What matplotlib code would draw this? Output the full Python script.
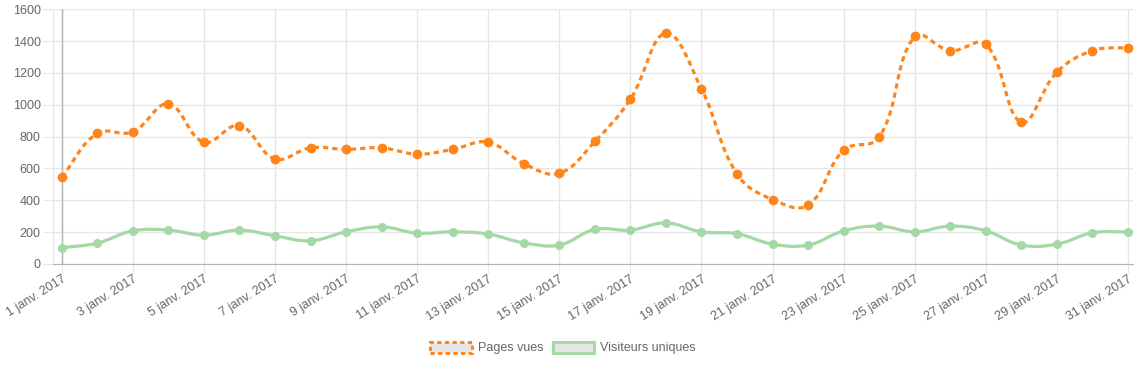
import numpy as np
import matplotlib
matplotlib.use("Agg")
import matplotlib.pyplot as plt
from matplotlib.path import Path
from matplotlib.patches import PathPatch, Patch

# données (janvier 2017)
days = list(range(1, 32))
pages_vues = [545, 820, 830, 1005, 765, 870, 660, 730, 720, 730,
              690, 720, 765, 630, 570, 770, 1035, 1450, 1100, 565,
              405, 370, 715, 795, 1430, 1340, 1380, 890, 1205, 1340, 1360]
visiteurs = [102, 131, 208, 213, 181, 213, 177, 146, 202, 233,
             194, 202, 188, 133, 119, 217, 213, 258, 202, 190,
             125, 119, 208, 238, 202, 238, 208, 119, 125, 196, 202]
y_ticks = [0, 200, 400, 600, 800, 1000, 1200, 1400, 1600]
x_ticks = days[::2]
x_labels = [f"{d} janv. 2017" for d in x_ticks]
series_names = ["Pages vues", "Visiteurs uniques"]

ORANGE = '#ff851b'
GREEN = '#a4d8a4'
GRID = '#e6e6e6'
AXIS = '#b4b4b4'
TEXT = '#666666'

plt.rcParams['font.family'] = ['Liberation Sans', 'DejaVu Sans']
plt.rcParams['lines.scale_dashes'] = False


def spline_path(ax, x, y, tension=0.4):
    """courbe lissée façon Chart.js (bezier cubique)"""
    pts = ax.transData.transform(np.column_stack([x, y]))
    n = len(pts)
    cp_prev = np.zeros_like(pts)
    cp_next = np.zeros_like(pts)
    for i in range(n):
        prev = pts[max(i - 1, 0)]
        cur = pts[i]
        nxt = pts[min(i + 1, n - 1)]
        d01 = np.hypot(*(cur - prev))
        d12 = np.hypot(*(nxt - cur))
        tot = d01 + d12
        s01 = d01 / tot if tot else 0
        s12 = d12 / tot if tot else 0
        cp_prev[i] = cur - tension * s01 * (nxt - prev)
        cp_next[i] = cur + tension * s12 * (nxt - prev)
    verts = [pts[0]]
    codes = [Path.MOVETO]
    for i in range(1, n):
        verts += [cp_next[i - 1], cp_prev[i], pts[i]]
        codes += [Path.CURVE4] * 3
    verts = ax.transData.inverted().transform(np.array(verts))
    return Path(verts, codes)


fig = plt.figure(figsize=(11.39, 3.69), dpi=100)
ax = fig.add_axes([52.7 / 1139, 105 / 369, (1133 - 52.7) / 1139, 254.7 / 369])
ax.set_xlim(1 - 9 / 35.55, 31 + 5 / 35.55)
ax.set_ylim(0, 1600)

# grille
ax.set_yticks(y_ticks)
ax.set_xticks(x_ticks)
ax.grid(True, color=GRID, linewidth=1)
ax.set_axisbelow(True)
for s in ['top', 'right']:
    ax.spines[s].set_visible(False)
ax.spines['left'].set_color(GRID)
ax.spines['bottom'].set_color(AXIS)
ax.axvline(days[0], color=AXIS, linewidth=1, zorder=1)

ax.tick_params(axis='y', length=7.2, color=GRID, labelcolor=TEXT, labelsize=9, pad=1.5)
ax.tick_params(axis='x', length=6.5, color=GRID, labelcolor=TEXT, labelsize=9, pad=0)
ax.set_xticklabels(x_labels, rotation=32, ha='right', va='top', rotation_mode='anchor')

# courbes
p1 = PathPatch(spline_path(ax, days, pages_vues), facecolor='none', edgecolor=ORANGE,
               linewidth=2.3, linestyle=(0, (3.8, 2.9)), zorder=4, capstyle='butt')
ax.add_patch(p1)
ax.plot(days, pages_vues, 'o', color=ORANGE, ms=6, zorder=5)

p2 = PathPatch(spline_path(ax, days, visiteurs), facecolor='none', edgecolor=GREEN,
               linewidth=2.3, zorder=3)
ax.add_patch(p2)
ax.plot(days, visiteurs, 'o', color=GREEN, ms=5.5, zorder=3)

# légende
handles = [
    Patch(facecolor=GRID, edgecolor=ORANGE, linewidth=2.2, linestyle=(0, (3, 2.5))),
    Patch(facecolor=GRID, edgecolor=GREEN, linewidth=2.2),
]
fig.legend(handles, series_names, loc='center', bbox_to_anchor=(563 / 1139, 1 - 348 / 369),
           ncol=2, frameon=False, fontsize=9, labelcolor=TEXT,
           handlelength=3.3, handleheight=1.0, handletextpad=0.5, columnspacing=0.75)

plt.savefig('out.png', dpi=100, facecolor='white')
plt.close()
